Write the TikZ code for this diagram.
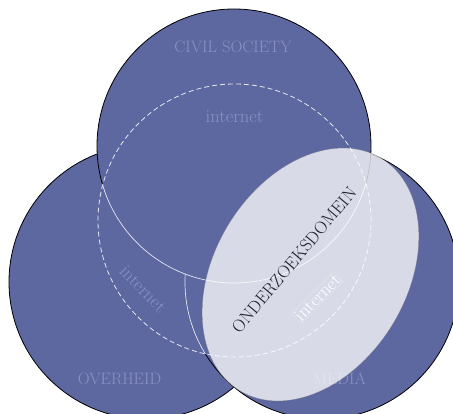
\documentclass[tikz,border=0pt]{standalone}
\definecolor{circfill}{RGB}{93,103,160}
\definecolor{lbl}{RGB}{138,146,196}
\definecolor{darktext}{RGB}{30,30,40}
\begin{document}
\begin{tikzpicture}[x=1pt,y=-1pt,
  vcirc/.style={fill=circfill,draw=black,line width=0.8pt},
  vcircin/.style={fill=circfill,draw=white,draw opacity=0.85,line width=0.7pt},
  biglabel/.style={text=lbl,inner sep=0pt,font=\fontsize{16.5}{18}\selectfont},
  netlabel/.style={text=lbl,inner sep=0pt,font=\fontsize{18.5}{20}\selectfont},
  studyarea/.style={fill=white,fill opacity=0.76,draw=gray,draw opacity=0.6,line width=0.4pt},
  netcircle/.style={draw=white,dash pattern=on 5pt off 3pt,line width=0.8pt,draw opacity=0.85}]
\useasboundingbox (0,0) rectangle (453,414);
\clip (0,0) rectangle (453,414);
\coordinate (L) at (146,282);
\coordinate (R) at (322,282);
\coordinate (T) at (234,146);
\coordinate (I) at (234.5,220.5);
\coordinate (E) at (310.5,274.5);
\path[vcirc] (L) circle[radius=137pt];
\path[vcirc] (R) circle[radius=137pt];
\path[vcirc] (T) circle[radius=137pt];
\begin{scope}
  \clip (I) circle[radius=136.5pt];
  \path[vcircin] (L) circle[radius=137pt];
  \path[vcircin] (R) circle[radius=137pt];
  \path[vcircin] (T) circle[radius=137pt];
\end{scope}
\node[biglabel] (cs) at (233,47) {CIVIL SOCIETY};
\node[biglabel] (ov) at (119.5,379) {OVERHEID};
\node[biglabel] (md) at (339.5,379) {MEDIA};
\node[netlabel] (n1) at (234.5,116.5) {internet};
\node[netlabel,rotate=-46] (n2) at (143,289) {internet};
\path[studyarea,rotate around={58.6:(E)}] (E) ellipse[x radius=136pt,y radius=96pt];
\path[netcircle] (I) circle[radius=136.5pt];
\node[netlabel,text=white,rotate=45,draw=white,draw opacity=0.35,line width=0.3pt,inner sep=1pt] (n3) at (317.5,297.5) {internet};
\node[rotate=50,text=darktext,inner sep=0pt,font=\fontsize{17.5}{19}\selectfont] (od) at (294,260) {ONDERZOEKSDOMEIN};
\end{tikzpicture}
\end{document}
